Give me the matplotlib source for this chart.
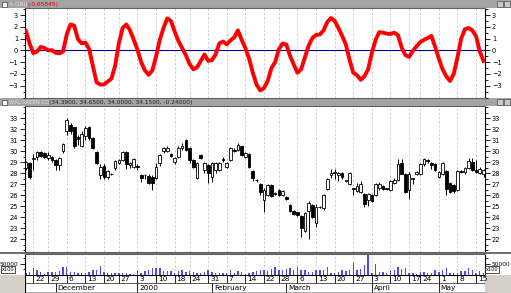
import matplotlib
matplotlib.use('Agg')
import matplotlib.pyplot as plt
from matplotlib.patches import Rectangle
from matplotlib.ticker import MultipleLocator, FixedLocator
import numpy as np

# ---------------- data ----------------
osc = [1.65, 0.6, -0.24, -0.1, 0.3, 0.2, 0.0, 0.02, -0.2, -0.25,
       -0.1, 1.37, 2.2, 2.1, 0.95, 0.6, 0.66, 0.12, -1.3, -2.7,
       -2.9, -2.9, -2.65, -2.4, -1.3, 0.6, 1.9, 2.2, 1.7, 0.9,
       0.05, -1.0, -1.7, -2.07, -1.7, -0.5, 0.9, 1.9, 2.72, 2.5,
       1.6, 0.8, 0.2, -0.4, -1.15, -1.6, -1.45, -0.9, -0.35, -0.89,
       -0.83, -0.35, 0.6, 0.75, 0.52, 0.85, 1.1, 1.7, 0.9, 0.2,
       -0.7, -1.9, -2.9, -3.4, -3.2, -2.6, -1.5, -1.0, 0.1, 0.58,
       0.5, -0.46, -1.2, -1.9, -1.6, -0.6, 0.4, 1.05, 1.31, 1.35,
       1.7, 2.4, 2.75, 2.5, 1.9, 1.25, 0.5, -0.8, -1.9, -2.1,
       -2.5, -2.2, -1.6, -0.2, 0.9, 1.55, 1.5, 1.42, 1.4, 1.5,
       1.3, 0.25, -0.4, -0.55, -0.05, 0.35, 0.7, 0.9, 1.05, 1.23,
       0.3, -0.7, -1.6, -2.2, -2.6, -2.0, -0.6, 1.0, 1.8, 1.9,
       1.7, 1.2, -0.1, -0.89]

opens = [28.5, 28.9, 29.3, 29.5, 29.95, 29.8, 29.35, 29.5, 29.2, 28.75,
         30.0, 31.8, 32.4, 32.15, 31.25, 30.5, 31.35, 32.15, 31.2, 29.95,
         27.8, 28.7, 27.7, 27.95, 28.5, 28.9, 29.2, 29.9, 28.75, 28.6,
         28.6, 27.85, 27.85, 27.75, 27.7, 27.55, 28.9, 30.0, 30.05, 29.7,
         29.05, 29.5, 30.3, 31.05, 30.3, 29.2, 27.55, 29.65, 28.3, 28.75,
         27.7, 28.3, 28.3, 29.25, 28.6, 29.2, 30.1, 30.1, 30.45, 29.5,
         29.7, 28.2, 27.4, 27.0, 25.6, 26.05, 26.9, 26.2, 26.5, 26.0,
         25.8, 25.1, 24.6, 24.5, 24.1, 22.8, 24.6, 25.1, 23.5, 24.9,
         24.8, 26.6, 27.8, 28.0, 27.8, 28.0, 27.3, 27.0, 26.65, 26.4,
         26.3, 26.1, 25.6, 26.0, 26.0, 26.65, 26.85, 26.65, 26.5, 27.1,
         27.4, 28.9, 27.9, 26.5, 27.5, 27.9, 27.9, 28.8, 29.2, 28.9,
         28.8, 27.7, 27.9, 28.2, 27.1, 26.9, 26.5, 28.2, 28.1, 28.5,
         29.0, 28.3, 28.0, 27.9]
highs = [29.1, 29.0, 29.7, 30.0, 30.0, 29.9, 29.9, 29.6, 29.3, 29.5,
         30.7, 33.0, 32.6, 32.2, 31.5, 31.8, 32.3, 32.3, 31.3, 30.0,
         28.8, 28.8, 28.3, 28.0, 29.2, 29.3, 30.0, 30.0, 29.0, 29.4,
         28.8, 27.95, 27.9, 27.9, 27.8, 28.9, 29.7, 30.4, 30.5, 29.8,
         29.5, 30.5, 30.7, 31.1, 30.4, 29.3, 29.0, 29.7, 29.0, 28.8,
         29.0, 29.0, 29.0, 29.5, 29.0, 30.4, 30.3, 30.7, 30.5, 29.9,
         29.8, 28.3, 27.5, 27.1, 26.7, 27.0, 27.0, 26.3, 26.6, 26.5,
         25.9, 25.2, 24.7, 24.5, 24.2, 24.5, 25.5, 25.2, 25.2, 25.0,
         26.1, 27.6, 28.4, 28.4, 28.1, 28.1, 27.4, 28.1, 26.7, 27.1,
         27.3, 26.2, 26.2, 26.1, 27.1, 27.2, 26.9, 26.7, 27.4, 27.6,
         29.3, 29.3, 28.0, 28.1, 27.6, 28.2, 28.9, 29.4, 29.3, 29.0,
         28.9, 28.2, 29.0, 28.3, 27.2, 27.0, 28.3, 28.3, 28.6, 29.4,
         29.4, 29.2, 28.6, 28.4]
lows = [28.3, 27.5, 28.3, 29.2, 29.5, 29.4, 29.2, 29.0, 28.3, 28.3,
        29.8, 31.5, 31.6, 30.3, 30.6, 30.4, 31.0, 31.0, 30.2, 28.8,
        27.5, 27.5, 27.5, 27.8, 28.3, 28.8, 29.1, 28.4, 28.5, 28.5,
        28.3, 27.2, 27.5, 27.0, 26.5, 27.5, 28.7, 29.8, 29.9, 29.5,
        28.8, 29.4, 30.1, 30.0, 28.9, 28.5, 27.5, 29.3, 28.0, 27.1,
        27.2, 28.0, 28.2, 29.0, 28.5, 29.1, 29.9, 30.0, 29.6, 29.4,
        28.5, 27.3, 27.2, 26.0, 24.45, 25.9, 25.8, 26.0, 25.9, 25.9,
        25.6, 24.5, 24.2, 24.1, 22.2, 22.7, 22.0, 23.9, 23.1, 24.8,
        24.7, 26.5, 27.6, 27.5, 27.3, 27.5, 27.2, 26.9, 26.0, 26.3,
        26.2, 24.9, 25.0, 25.4, 25.9, 26.5, 26.5, 26.5, 26.4, 27.0,
        27.3, 27.9, 26.2, 25.7, 27.0, 27.8, 27.8, 28.7, 28.9, 28.4,
        28.2, 27.6, 27.8, 26.0, 26.2, 26.2, 26.4, 28.0, 27.9, 28.4,
        28.2, 28.0, 27.9, 27.7]
closes = [29.0, 27.7, 29.4, 29.95, 29.6, 29.5, 29.65, 29.2, 28.75, 29.4,
          30.65, 32.85, 31.8, 30.45, 31.15, 31.6, 32.1, 31.2, 30.25, 28.9,
          28.6, 27.7, 28.2, 27.9, 29.1, 29.2, 29.9, 28.8, 28.9, 29.3,
          28.55, 27.6, 27.8, 27.1, 27.1, 28.6, 29.65, 30.3, 30.3, 29.6,
          29.35, 30.3, 30.45, 30.1, 29.2, 28.6, 28.9, 29.35, 28.9, 28.0,
          28.9, 28.9, 28.9, 29.2, 28.9, 30.3, 30.05, 30.6, 29.65, 29.8,
          28.6, 27.6, 27.35, 26.3, 26.5, 26.9, 25.9, 26.15, 26.0, 26.4,
          25.7, 24.6, 24.3, 24.25, 23.0, 24.4, 25.3, 24.0, 24.9, 24.95,
          26.0, 27.5, 28.0, 28.05, 28.0, 27.7, 27.3, 28.0, 26.6, 26.8,
          27.0, 25.2, 26.1, 25.5, 27.0, 27.0, 26.6, 26.6, 27.3, 27.4,
          28.8, 27.95, 26.3, 27.9, 27.5, 28.1, 28.8, 29.3, 29.1, 28.75,
          28.3, 28.1, 28.9, 26.6, 26.3, 26.35, 28.2, 28.15, 28.5, 29.1,
          28.3, 28.1, 28.4, 28.3]
volume = [7600, 12100, 31800, 22700, 12100, 3000, 10600, 10600, 10600, 15200,
          34800, 34800, 12100, 12100, 9100, 6100, 7600, 12100, 19700, 19700,
          37900, 12100, 9100, 9100, 6100, 6100, 7600, 7600, 1000, 1000,
          15200, 9100, 15200, 22700, 31800, 31800, 30300, 15200, 15200, 15200,
          9100, 15200, 22700, 12100, 15200, 12100, 9100, 9100, 12100, 19700,
          12100, 9100, 9100, 9100, 9100, 19700, 9100, 15200, 12100, 4500,
          9100, 12100, 15200, 19700, 22700, 15200, 27300, 34800, 22700, 22700,
          27300, 30300, 22700, 34800, 22700, 19700, 12100, 12100, 19700, 19700,
          19700, 34800, 9100, 9100, 12100, 19700, 15200, 19700, 53000, 22700,
          27300, 42400, 87900, 9100, 50000, 12100, 12100, 9100, 15200, 22700,
          34800, 27300, 30300, 7600, 7600, 4500, 12100, 12100, 9100, 9100,
          19700, 12100, 22700, 31800, 9100, 6100, 7600, 15200, 15200, 31800,
          19700, 9100, 15200, 7600]

week_labels = ['22', '29', '6', '13', '20', '27', '3', '10', '18', '24', '31', '7', '14',
               '22', '28', '6', '13', '20', '27', '3', '10', '17', '24', '1', '8', '15']
week_pos = [0, 4, 9, 14, 19, 23, 28, 33, 38, 42, 47, 52, 57,
            62, 66, 71, 76, 81, 86, 91, 96, 101, 104, 109, 114, 119]
month_labels = ['December', '2000', 'February', 'March', 'April', 'May']
month_pos = [6, 28, 48, 68, 91, 109]

x = np.arange(-2, -2 + len(opens))
o = np.array(opens); h = np.array(highs); l = np.array(lows); c = np.array(closes)

# ---------------- layout ----------------
W, H = 511, 293
fig = plt.figure(figsize=(W / 100, H / 100), dpi=100)
fig.patch.set_facecolor('white')

def rect(x0, y0, x1, y1):
    return [x0 / W, 1 - y1 / H, (x1 - x0) / W, (y1 - y0) / H]

XL, XR = 25, 485
xlim = (-2.23, 121.4)
GRAY_BAR = '#a4a4a4'
WIN = '#d4d0c8'
FS = 4.8

# background decorations
bg = fig.add_axes([0, 0, 1, 1], zorder=-5)
bg.set_xlim(0, W); bg.set_ylim(H, 0); bg.axis('off')
bg.add_patch(Rectangle((0, 0), W, 8, facecolor=GRAY_BAR, edgecolor='none'))
bg.add_patch(Rectangle((0, 97.5), W, 8.5, facecolor=GRAY_BAR, edgecolor='none'))
bg.add_patch(Rectangle((0, 252), W, 2, facecolor='#707070', edgecolor='none'))
bg.add_patch(Rectangle((0, 275), XL, 18, facecolor=WIN, edgecolor='none'))
bg.add_patch(Rectangle((XR, 275), W - XR, 18, facecolor=WIN, edgecolor='none'))
for yb in (1.5, 99.5):
    bg.add_patch(Rectangle((2, yb), 5, 5, facecolor='white', edgecolor='#404040', lw=0.5))
for yb in (1, 99):
    for xb in (497, 504):
        bg.add_patch(Rectangle((xb, yb), 6, 6, facecolor='#c8c8c8', edgecolor='#505050', lw=0.5))

def ftext(px, py, s, **kw):
    fig.text(px / W, 1 - py / H, s, **kw)

ftext(9, 4.2, 'A GRII', fontsize=4.2, color='#e0e0e0', va='center')
ftext(27, 4.2, '(-0.65845)', fontsize=4.2, color='#e00000', va='center')
ftext(9, 102, 'WALGREEN CO', fontsize=4.0, color='#e0e0e0', va='center')
ftext(49, 102, '(34.3900, 34.6500, 34.0000, 34.1500, -0.24000)', fontsize=4.2,
      color='#202020', va='center')

def style(ax):
    ax.set_xlim(*xlim)
    ax.set_facecolor('white')
    for s in ('left', 'right'):
        ax.spines[s].set_color('black'); ax.spines[s].set_linewidth(0.8)
    for s in ('top', 'bottom'):
        ax.spines[s].set_color('#606060'); ax.spines[s].set_linewidth(0.8)
    ax.set_xticks([])
    ax.tick_params(axis='y', which='both', direction='out', left=True, right=True,
                   labelleft=True, labelright=True, labelsize=FS, colors='black',
                   width=0.6, pad=1.5)
    ax.tick_params(axis='y', which='major', length=3.5)
    ax.tick_params(axis='y', which='minor', length=1.8)
    for p in week_pos:
        ax.axvline(p, color='#c4c4c4', lw=0.6, ls=(0, (2.5, 2.5)), zorder=0)

# oscillator
ax1 = fig.add_axes(rect(XL, 8, XR, 97.5))
style(ax1)
ax1.set_ylim(-4.0, 3.6)
ax1.yaxis.set_major_locator(FixedLocator([-3, -2, -1, 0, 1, 2, 3]))
ax1.yaxis.set_minor_locator(MultipleLocator(0.5))
ax1.axhline(0, color='#0000a8', lw=0.8, zorder=1)
ax1.plot(x, osc, color='#ff0000', lw=2.8, solid_joinstyle='round', zorder=3)

# price candles
ax2 = fig.add_axes(rect(XL, 106, XR, 252))
style(ax2)
ax2.set_ylim(20.85, 34.1)
ax2.yaxis.set_major_locator(FixedLocator(list(range(22, 34))))
ax2.yaxis.set_minor_locator(MultipleLocator(0.5))
up = c >= o
bot = np.minimum(o, c)
hgt = np.maximum(np.abs(c - o), 0.07)
ax2.vlines(x, l, h, color='black', lw=0.7, zorder=2)
ax2.bar(x[up], hgt[up], bottom=bot[up], width=0.72, facecolor='white',
        edgecolor='black', lw=0.6, zorder=3)
ax2.bar(x[~up], hgt[~up], bottom=bot[~up], width=0.72, facecolor='black',
        edgecolor='black', lw=0.6, zorder=3)

# volume
ax3 = fig.add_axes(rect(XL, 254, XR, 275))
style(ax3)
ax3.tick_params(axis='y', which='both', labelsize=4.2, pad=1.0)
ax3.set_ylim(-1500, 93000)
ax3.yaxis.set_major_locator(FixedLocator([50000]))
ax3.yaxis.set_minor_locator(FixedLocator([25000, 75000]))
ax3.yaxis.set_major_formatter(matplotlib.ticker.FuncFormatter(lambda v, p: '%d' % v))
ax3.bar(x, volume, width=0.38, color='#4848ff', zorder=2)
for px in (3, 487):
    ftext(px + 5, 269.5, 'x100', fontsize=3.6, color='black', ha='center', va='center',
          bbox=dict(boxstyle='square,pad=0.15', facecolor='white', edgecolor='black', lw=0.5))

# date axis
ax4 = fig.add_axes(rect(XL, 275, XR, 293))
ax4.set_xlim(*xlim); ax4.set_ylim(0, 1)
ax4.set_xticks([]); ax4.set_yticks([])
for s in ax4.spines.values():
    s.set_visible(False)
ax4.axhline(1.0, color='black', lw=0.8)
ax4.axhline(0.53, color='#404040', lw=0.6)
ax4.axhline(0.04, color='#a0a0a0', lw=0.6)
ax4.axvline(xlim[0] + 0.05, color='black', lw=0.8)
ax4.axvline(xlim[1] - 0.05, color='black', lw=0.8)
ax4.vlines(week_pos, 0.53, 1.0, color='black', lw=0.6)
for p, t in zip(week_pos, week_labels):
    ax4.text(p + 0.5, 0.77, t, fontsize=5.3, ha='left', va='center', color='black')
ax4.vlines(month_pos, 0.04, 0.53, color='black', lw=0.6)
for p, t in zip(month_pos, month_labels):
    ax4.text(p + 0.5, 0.28, t, fontsize=5.3, ha='left', va='center', color='black')

fig.savefig('out.png', dpi=100, facecolor='white')
